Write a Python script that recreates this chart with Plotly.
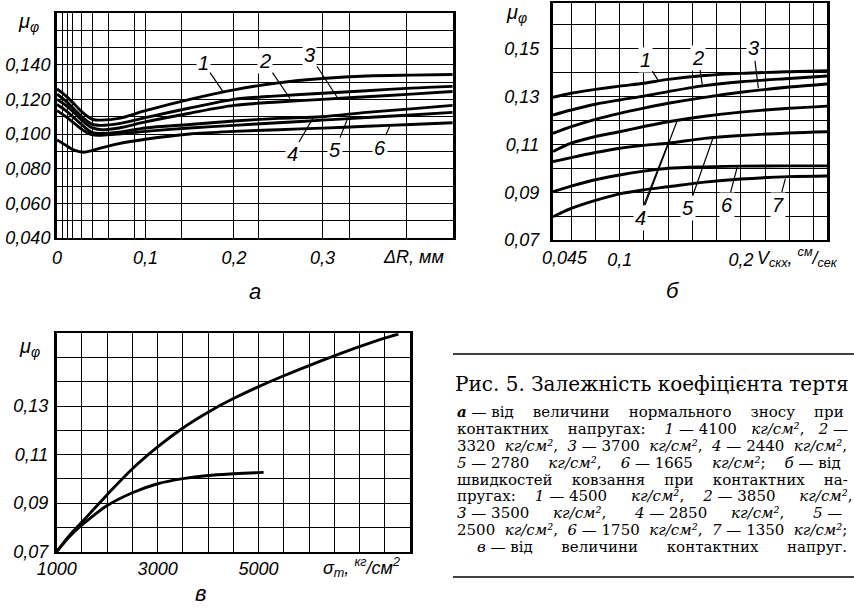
import plotly.graph_objects as go

W, H = 854, 613

# ---------------- Panel a: mu vs wear dR (mm) ----------------
a_dr = [0, 0.01, 0.02, 0.03, 0.04, 0.05, 0.07, 0.1, 0.15, 0.2, 0.25, 0.3, 0.35, 0.4, 0.447]
a_mu1 = [0.126, 0.122, 0.117, 0.112, 0.1085, 0.108, 0.109, 0.1135, 0.120, 0.1255, 0.1295, 0.132, 0.1335, 0.134, 0.1343]
a_mu2 = [0.123, 0.119, 0.114, 0.109, 0.1055, 0.105, 0.106, 0.1095, 0.1150, 0.1200, 0.1220, 0.1235, 0.125, 0.1265, 0.1275]
a_mu3 = [0.120, 0.1165, 0.112, 0.107, 0.1035, 0.1025, 0.1035, 0.107, 0.112, 0.1165, 0.1185, 0.120, 0.1215, 0.123, 0.1245]
a_mu4 = [0.117, 0.1135, 0.109, 0.1045, 0.1008, 0.1003, 0.101, 0.1035, 0.1055, 0.1075, 0.109, 0.110, 0.1125, 0.1145, 0.1165]
a_mu5 = [0.1135, 0.110, 0.106, 0.102, 0.0995, 0.0993, 0.100, 0.1015, 0.1035, 0.105, 0.1065, 0.108, 0.1095, 0.111, 0.1125]
a_mu6 = [0.0966, 0.0935, 0.0905, 0.0895, 0.0905, 0.092, 0.0945, 0.097, 0.100, 0.1015, 0.1025, 0.1034, 0.1045, 0.1055, 0.1065]
a_series = [a_mu1, a_mu2, a_mu3, a_mu4, a_mu5, a_mu6]
a_xgrid = [0, 0.006, 0.012, 0.018, 0.028, 0.04, 0.058, 0.088, 0.1, 0.141, 0.2, 0.228, 0.3, 0.331, 0.395]
a_xlabels = {0: "0", 0.1: "0,1", 0.2: "0,2", 0.3: "0,3"}
a_ygrid = [0.04, 0.05, 0.06, 0.07, 0.08, 0.09, 0.10, 0.11, 0.12, 0.13, 0.14, 0.15, 0.16, 0.17]
a_ylabels = {0.04: "0,040", 0.06: "0,060", 0.08: "0,080", 0.10: "0,100", 0.12: "0,120", 0.14: "0,140"}
# curve labels: (text, x, y of pointed curve point, label offset px)
a_tags = [("1", 0.1876, 0.1245, -20, -29), ("2", 0.2633, 0.1205, -25, -37),
          ("3", 0.3175, 0.1205, -28, -43), ("4", 0.2893, 0.1092, -21, 36),
          ("5", 0.3277, 0.1080, -12, 30), ("6", 0.3763, 0.1048, -10, 22)]

# ---------------- Panel b: mu vs sliding speed ----------------
b_v = [0.045, 0.06, 0.08, 0.1, 0.12, 0.14, 0.17, 0.2, 0.24, 0.271]
b_mu1 = [0.1297, 0.1314, 0.1330, 0.1344, 0.1356, 0.1372, 0.1388, 0.1397, 0.1404, 0.1408]
b_mu2 = [0.1223, 0.1244, 0.1268, 0.1286, 0.1302, 0.1321, 0.1346, 0.1362, 0.1376, 0.1386]
b_mu3 = [0.1146, 0.1174, 0.1205, 0.1230, 0.1252, 0.1272, 0.1297, 0.1318, 0.1340, 0.1353]
b_mu4 = [0.1070, 0.1105, 0.1133, 0.1153, 0.1175, 0.1195, 0.1218, 0.1235, 0.1251, 0.1260]
b_mu5 = [0.1028, 0.1045, 0.1066, 0.1084, 0.1096, 0.1105, 0.1125, 0.1137, 0.1148, 0.1153]
b_mu6 = [0.0902, 0.0925, 0.0952, 0.0972, 0.0988, 0.1000, 0.1006, 0.1009, 0.1010, 0.1010]
b_mu7 = [0.0797, 0.0832, 0.0866, 0.0893, 0.0910, 0.0923, 0.0942, 0.0955, 0.0965, 0.0968]
b_series = [b_mu1, b_mu2, b_mu3, b_mu4, b_mu5, b_mu6, b_mu7]
b_xgrid = [0.045, 0.06, 0.08, 0.10, 0.12, 0.14, 0.16, 0.18, 0.20, 0.22, 0.24, 0.26]
b_xlabels = {0.10: "0,1", 0.20: "0,2"}
b_ygrid = [0.07, 0.08, 0.09, 0.10, 0.11, 0.12, 0.13, 0.14, 0.15, 0.16]
b_ylabels = {0.07: "0,07", 0.09: "0,09", 0.11: "0,11", 0.13: "0,13", 0.15: "0,15"}
b_tags = [("1", 0.1318, 0.1368, -13, -20), ("2", 0.1681, 0.1350, -4, -27),
          ("3", 0.2144, 0.1335, -5, -40), ("4", 0.1475, 0.1200, -37, 97),
          ("5", 0.1772, 0.1130, -25, 71),
          ("6", 0.1970, 0.1006, -10, 38), ("7", 0.2367, 0.0957, -7, 26)]
# second leader of label 4 (from label to curve 5)
b_extra_leader = ((0.119, 0.0835), (0.140, 0.1105))

# ---------------- Panel c: mu vs contact stress ----------------
c_s1 = [1000, 1250, 1500, 2000, 2500, 3000, 3500, 4000, 4500, 5000, 5500, 6000, 6500, 7000, 7500, 7770]
c_mu1 = [0.070, 0.0766, 0.0822, 0.0935, 0.1042, 0.1132, 0.1210, 0.1275, 0.1331, 0.1380, 0.1425, 0.1467, 0.1507, 0.1545, 0.1580, 0.1597]
c_s2 = [1000, 1250, 1500, 2000, 2500, 3000, 3500, 4000, 4500, 5000, 5100]
c_mu2 = [0.070, 0.0762, 0.0810, 0.0890, 0.0943, 0.0980, 0.1001, 0.1014, 0.1021, 0.1026, 0.1027]
c_xgrid = [1000, 1500, 2000, 2500, 3000, 3500, 4000, 4500, 5000, 5500, 6000, 6500, 7000, 7500]
c_xlabels = {1000: "1000", 3000: "3000", 5000: "5000"}
c_ygrid = [0.07, 0.08, 0.09, 0.10, 0.11, 0.12, 0.13, 0.14, 0.15]
c_ylabels = {0.07: "0,07", 0.09: "0,09", 0.11: "0,11", 0.13: "0,13"}

# caption (spaces widened to imitate the justified setting)
cap_title = "Рис. 5. Залежність коефіцієнта тертя"
cap_lines = [
    "<b><i>а</i></b> — від    величини    нормального    зносу    при",
    "контактних    напругах:    <i>1</i> — 4100   <i>кг/см²</i>,   <i>2</i> —",
    "3320  <i>кг/см²</i>,  <i>3</i> — 3700  <i>кг/см²</i>,  <i>4</i> — 2440  <i>кг/см²</i>,",
    "<i>5</i> — 2780    <i>кг/см²</i>,    <i>6</i> — 1665    <i>кг/см²</i>;    <i>б</i> — від",
    "швидкостей    ковзання    при    контактних    на-",
    "пругах:    <i>1</i> — 4500     <i>кг/см²</i>,    <i>2</i> — 3850     <i>кг/см²</i>,",
    "<i>3</i> — 3500     <i>кг/см²</i>,      <i>4</i> — 2850     <i>кг/см²</i>,      <i>5</i> —",
    "2500  <i>кг/см²</i>,  <i>6</i> — 1750  <i>кг/см²</i>,  <i>7</i> — 1350  <i>кг/см²</i>;",
    "<i>в</i> — від      величини      контактних      напруг.",
]

# ---------------- helpers ----------------
def px(x):
    return x / W

def py(y):
    return 1 - y / H

SANS = "Liberation Sans"
SERIF = "DejaVu Serif"
tickfont = dict(family=SANS, size=18, color="black", style="italic")


def axis(domain, rng, grid, labels, lw, standoff, anchor):
    return dict(domain=domain, range=rng, tickvals=grid, anchor=anchor,
                ticktext=[labels.get(round(g, 4), "") for g in grid],
                showgrid=True, gridcolor="black", gridwidth=1.2,
                showline=True, linecolor="black", linewidth=lw, mirror=True,
                zeroline=False, ticks="", tickfont=tickfont, automargin=False,
                ticklabelstandoff=standoff, fixedrange=True)

fig = go.Figure()
curve = dict(color="black", width=2.9, shape="spline", smoothing=0.9)
for s in a_series:
    fig.add_trace(go.Scatter(x=a_dr, y=s, mode="lines", xaxis="x", yaxis="y", line=curve))
for s in b_series:
    fig.add_trace(go.Scatter(x=b_v, y=s, mode="lines", xaxis="x2", yaxis="y2", line=curve))
fig.add_trace(go.Scatter(x=c_s1, y=c_mu1, mode="lines", xaxis="x3", yaxis="y3", line=curve))
fig.add_trace(go.Scatter(x=c_s2, y=c_mu2, mode="lines", xaxis="x3", yaxis="y3", line=curve))

fig.update_layout(
    template="none",
    width=W, height=H, margin=dict(l=0, r=0, t=0, b=0, autoexpand=False),
    paper_bgcolor="white", plot_bgcolor="white", showlegend=False,
    font=dict(family=SANS, color="black"),
    xaxis=axis([px(57), px(453)], [0, 0.4475], a_xgrid, a_xlabels, 2, 2, "y"),
    yaxis=axis([py(238), py(12.7)], [0.04, 0.17], a_ygrid, a_ylabels, 3, 0, "x"),
    xaxis2=axis([px(553), px(827)], [0.045, 0.271], b_xgrid, b_xlabels, 2, 2, "y2"),
    yaxis2=axis([py(240), py(3.4)], [0.07, 0.169], b_ygrid, b_ylabels, 3, 7, "x2"),
    xaxis3=axis([px(56.7), px(410)], [1000, 8000], c_xgrid, c_xlabels, 2, 0, "y3"),
    yaxis3=axis([py(551.7), py(333.3)], [0.07, 0.16], c_ygrid, c_ylabels, 2.5, 2, "x3"),
)

ann = []
lab_font = dict(family=SANS, size=20, color="black", style="italic")
for (t, x, y, ax, ay) in a_tags:
    ann.append(dict(text=t, x=x, y=y, xref="x", yref="y", ax=ax, ay=ay,
                    showarrow=True, arrowhead=0, arrowwidth=1.2, arrowcolor="black",
                    font=lab_font, bgcolor="white", borderpad=1, standoff=0))
for (t, x, y, ax, ay) in b_tags:
    ann.append(dict(text=t, x=x, y=y, xref="x2", yref="y2", ax=ax, ay=ay,
                    showarrow=True, arrowhead=0, arrowwidth=1.2, arrowcolor="black",
                    font=lab_font, bgcolor="white", borderpad=1, standoff=0))

def txt(t, x, y, size=18, family=SANS, style="italic", xanchor="center", bg=None):
    d = dict(text=t, x=px(x), y=py(y), xref="paper", yref="paper", showarrow=False,
             xanchor=xanchor, yanchor="middle",
             font=dict(family=family, size=size, color="black", style=style))
    if bg:
        d["bgcolor"] = bg
    return d

# y-axis symbols
ann.append(txt("μ<sub>φ</sub>", 28, 22, 20))
ann.append(txt("μ<sub>φ</sub>", 516, 13, 20))
ann.append(txt("μ<sub>φ</sub>", 30, 347, 20))
# axis titles
ann.append(txt("ΔR, мм", 413, 257, 18, bg="white"))
ann.append(txt("0,045", 565, 258, 18))
ann.append(txt("V<sub>скх</sub>, <sup>см</sup>/<sub>сек</sub>", 797, 257, 18))
ann.append(txt("σ<sub>m</sub>, <sup>кг</sup>/см<sup>2</sup>", 361, 567, 18))
# panel letters
ann.append(txt("а", 255, 292, 22))
ann.append(txt("б", 673, 290, 22))
ann.append(txt("в", 200, 593, 22))
# caption
ann.append(txt(cap_title, 453, 384, 20, family=SERIF, style="normal", xanchor="left"))
for i, line in enumerate(cap_lines):
    y = 412 + i * 16.875
    x0 = 475 if i == len(cap_lines) - 1 else 455
    ann.append(txt(line.replace(" ", "\u00a0"), x0, y, 15, family=SERIF,
                   style="normal", xanchor="left"))
fig.update_layout(annotations=ann)

(lx0, ly0), (lx1, ly1) = b_extra_leader
shapes = [
    dict(type="line", xref="paper", yref="paper", x0=px(453), x1=px(854), y0=py(354), y1=py(354),
         line=dict(color="black", width=1.6)),
    dict(type="line", xref="paper", yref="paper", x0=px(453), x1=px(854), y0=py(577), y1=py(577),
         line=dict(color="black", width=1.6)),
    dict(type="line", xref="x2", yref="y2", x0=lx0, y0=ly0, x1=lx1, y1=ly1,
         line=dict(color="black", width=1.2)),
]
fig.update_layout(shapes=shapes)

fig.write_html("out.html", config={"displayModeBar": False},
               post_script="document.body.style.margin='0px';")
